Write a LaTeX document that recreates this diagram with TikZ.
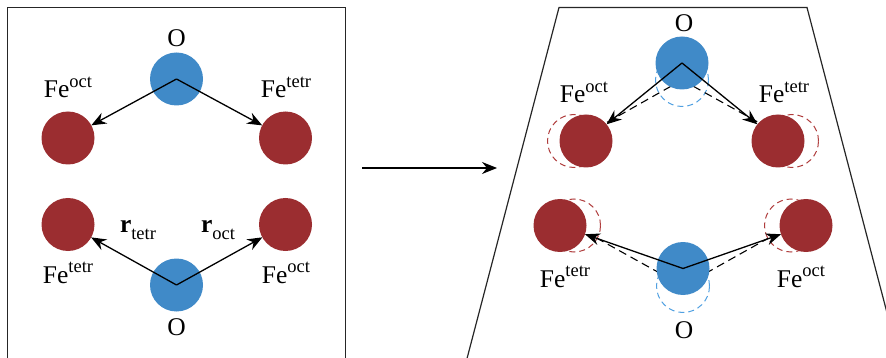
\documentclass[tikz,border=0pt]{standalone}
\usepackage{fontspec}
\setmainfont{Liberation Serif}
\usetikzlibrary{arrows.meta}
\definecolor{oblue}{RGB}{64,138,200}
\definecolor{fered}{RGB}{155,45,48}
\definecolor{dblue}{RGB}{80,160,225}
\definecolor{dred}{RGB}{175,60,60}
\newcommand\supx[1]{\raisebox{0.42em}{\fontsize{18.5}{19}\selectfont #1}}
\newcommand\subx[1]{\raisebox{-0.25em}{\fontsize{18.5}{19}\selectfont #1}}
\newcommand\lblfont{\fontsize{25.5}{27}\selectfont}
\begin{document}
\begin{tikzpicture}[x=1pt,y=-1pt,
  atom/.style={circle, minimum size=53pt, inner sep=0pt, outer sep=0pt},
  oatom/.style={atom, fill=oblue},
  featom/.style={atom, fill=fered},
  oghost/.style={atom, draw=dblue, dash pattern=on 6pt off 4pt, line width=1pt},
  feghost/.style={atom, draw=dred, dash pattern=on 6pt off 4pt, line width=1pt},
  vec/.style={-{Stealth[length=15pt,width=12pt,inset=5pt]}, line width=1.3pt},
  ghostvec/.style={dash pattern=on 8pt off 5pt, line width=1.1pt},
  lab/.style={anchor=base, inner sep=0pt, font=\lblfont},
  panel/.style={line width=1.2pt, draw=black!85}]
\useasboundingbox (0,0) rectangle (886,358);
\clip (0,0) rectangle (886,358);
% panels
\draw[panel] (7.5,7.5) rectangle (345.5,370);
\draw[panel] (464,370) -- (559,7.5) -- (807,7.5) -- (902,370);
% ---------- left panel ----------
\node[oatom] (oT) at (176.5,79) {};
\node[featom] (fT1) at (68,138) {};
\node[featom] (fT2) at (285.5,138) {};
\node[featom] (fB1) at (68,224.5) {};
\node[featom] (fB2) at (285.5,224.5) {};
\node[oatom] (oB) at (176.5,285) {};
\draw[vec] (oT.center) -- (fT1);
\draw[vec] (oT.center) -- (fT2);
\draw[vec] (oB.center) -- (fB1);
\draw[vec] (oB.center) -- (fB2);
\node[lab] (lOT) at (176.5,47) {O};
\node[lab] (lT1) at (68,98) {Fe\supx{oct}};
\node[lab] (lT2) at (286,98) {Fe\supx{tetr}};
\node[lab] (lB1) at (68,283) {Fe\supx{tetr}};
\node[lab] (lB2) at (286,283) {Fe\supx{oct}};
\node[lab] (lOB) at (176.5,335) {O};
\node[lab] (rt) at (138,233) {\textbf{r}\subx{tetr}};
\node[lab] (ro) at (218,233) {\textbf{r}\subx{oct}};
% ---------- middle arrow ----------
\coordinate (m1) at (362,168);
\coordinate (m2) at (497,168);
\draw[vec] (m1) -- (m2);
% ---------- right panel ----------
% old positions (dashed)
\node[oghost] (goT) at (682,80) {};
\node[feghost] (gfT1) at (574,141) {};
\node[feghost] (gfT2) at (792,141) {};
\node[feghost] (gfB1) at (574,225.5) {};
\node[feghost] (gfB2) at (791,225.5) {};
\node[oghost] (goB) at (683,286) {};
\draw[ghostvec] (goT.center) -- (gfT1);
\draw[ghostvec] (goT.center) -- (gfT2);
\draw[ghostvec] (goB.center) -- (gfB1);
\draw[ghostvec] (goB.center) -- (gfB2);
% new positions
\node[oatom] (noT) at (682,63) {};
\node[featom] (nfT1) at (586,141) {};
\node[featom] (nfT2) at (778,141) {};
\node[featom] (nfB1) at (560,225.5) {};
\node[featom] (nfB2) at (806,225.5) {};
\node[oatom] (noB) at (683,268.5) {};
\draw[vec] (noT.center) -- (nfT1);
\draw[vec] (noT.center) -- (nfT2);
\draw[vec] (noB.center) -- (nfB1);
\draw[vec] (noB.center) -- (nfB2);
\node[lab] (rOT) at (684,32) {O};
\node[lab] (rT1) at (584,103) {Fe\supx{oct}};
\node[lab] (rT2) at (784,103) {Fe\supx{tetr}};
\node[lab] (rB1) at (565,287) {Fe\supx{tetr}};
\node[lab] (rB2) at (801,287) {Fe\supx{oct}};
\node[lab] (rOB) at (684,338) {O};
\end{tikzpicture}
\end{document}
